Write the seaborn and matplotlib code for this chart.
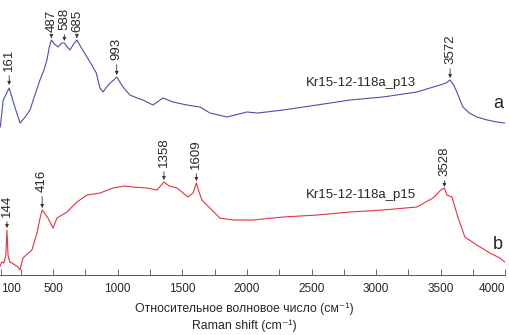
import numpy as np
import pandas as pd
import matplotlib
matplotlib.use('Agg')
import matplotlib.pyplot as plt
import seaborn as sns

# spectrum a (Kr15-12-118a_p13)
wn_a = [92, 115, 161, 200, 245, 285, 322, 360, 399, 430, 453, 470, 487, 510, 540, 565, 588,
        610, 631, 660, 685, 720, 763, 800, 835, 863, 887, 915, 941, 970, 993, 1041, 1095,
        1150, 1196, 1273, 1351, 1428, 1536, 1637, 1714, 1846, 2000, 2085, 2279, 2542, 2797,
        3052, 3315, 3493, 3540, 3572, 3600, 3624, 3671, 3720, 3779, 3860, 3934, 3995]
int_a = [153, 180, 192, 175, 157, 163, 170, 185, 200, 210, 220, 232, 240, 236, 233, 237, 237,
         233, 230, 236, 240, 232, 223, 215, 207, 192, 188, 193, 197, 200, 203, 193, 185,
         182, 180, 175, 182, 178, 175, 173, 167, 163, 168, 167, 170, 175, 180,
         183, 188, 195, 197, 200, 195, 188, 173, 167, 163, 160, 158, 157]

# spectrum b (Kr15-12-118a_p15)
wn_b = [92, 103, 120, 135, 144, 152, 165, 183, 229, 245, 268, 300, 337, 376, 400, 416, 440,
        461, 500, 531, 608, 685, 763, 863, 964, 1050, 1119, 1227, 1304, 1358, 1400, 1459,
        1544, 1583, 1609, 1630, 1652, 1714, 1791, 1892, 2047, 2279, 2542, 2797, 3052, 3315,
        3439, 3501, 3528, 3547, 3586, 3632, 3686, 3779, 3880, 3957, 3995]
int_b = [14, 18, 17, 25, 50, 25, 18, 17, 13, 10, 22, 26, 30, 47, 62, 70, 66,
         62, 52, 62, 68, 78, 85, 87, 92, 94, 93, 92, 90, 98, 94, 92,
         83, 87, 97, 88, 80, 72, 62, 60, 60, 63, 65, 68, 70, 73,
         82, 90, 92, 85, 83, 63, 43, 35, 27, 22, 18]

# peak labels: (wavenumber, arrow tip, text bottom)
peaks_a = [(161, 195, 209), (487, 242, 248), (588, 239, 250), (685, 242, 248),
           (993, 205, 220), (3572, 202, 216)]
peaks_b = [(144, 52, 63), (416, 72, 88), (1358, 100, 113), (1609, 99, 111), (3528, 93, 104)]

tick_vals = [100, 500, 1000, 1500, 2000, 2500, 3000, 3500, 4000]

sns.set_theme(style='white')
plt.rcParams['font.family'] = ['Liberation Sans', 'DejaVu Sans']

fig = plt.figure(figsize=(5.09, 3.35), dpi=100)
ax = fig.add_axes([0.0, 0.179, 0.993, 0.821])

df_a = pd.DataFrame({'wn': wn_a, 'val': int_a})
df_b = pd.DataFrame({'wn': wn_b, 'val': int_b})
sns.lineplot(data=df_a, x='wn', y='val', ax=ax, color='#4a50a8', lw=0.8)
sns.lineplot(data=df_b, x='wn', y='val', ax=ax, color='#e23440', lw=0.8)

for peaks in (peaks_a, peaks_b):
    for wn, tip, txt in peaks:
        ax.annotate(str(wn), xy=(wn, tip), xytext=(wn, txt), rotation=90,
                    ha='center', va='bottom', fontsize=9.5,
                    arrowprops=dict(arrowstyle='-|>', color='#333333', lw=0.6,
                                    mutation_scale=5, shrinkA=1, shrinkB=0))

ax.text(2880, 197, 'Kr15-12-118a_p13', fontsize=9.5, ha='center', va='center')
ax.text(3980, 177, 'a', fontsize=13, ha='right', va='center')
ax.text(2880, 85, 'Kr15-12-118a_p15', fontsize=9.5, ha='center', va='center')
ax.text(3980, 36, 'b', fontsize=13, ha='right', va='center')

ax.set_xlim(90, 4000)
ax.set_ylim(5, 280)
ax.set_yticks([])
ax.set_xticks(tick_vals)
ax.set_xticks(np.arange(250, 4000, 500), minor=True)
ax.tick_params(axis='x', which='both', direction='in', length=4, width=0.6,
               labelsize=8.5, pad=6, bottom=True, color='#555555')
labels = ax.set_xticklabels([str(v) for v in tick_vals])
labels[0].set_horizontalalignment('left')
labels[-1].set_horizontalalignment('right')
for s in ['top', 'left', 'right']:
    ax.spines[s].set_visible(False)
ax.spines['bottom'].set_color('#555555')
ax.spines['bottom'].set_linewidth(0.7)
ax.set_xlabel('')
ax.set_ylabel('')

fig.text(244 / 509, 1 - 309 / 335, 'Относительное волновое число (см⁻¹)',
         ha='center', va='center', fontsize=8.8)
fig.text(244 / 509, 1 - 326 / 335, 'Raman shift (cm⁻¹)',
         ha='center', va='center', fontsize=8.8)

fig.savefig('out.png', dpi=100)
